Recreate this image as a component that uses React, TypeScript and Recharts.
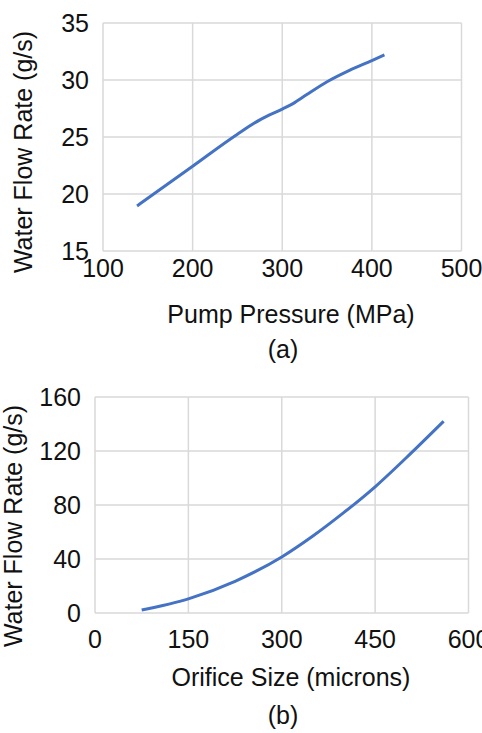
import { CartesianGrid, Label, Line, LineChart, XAxis, YAxis } from 'recharts'

// (a) pump pressure vs flow
const pressureMPa = [138, 200, 250, 276, 300, 312, 327, 350, 375, 400, 414]
const pressureFlow = [18.95, 22.44, 25.25, 26.55, 27.45, 27.93, 28.7, 29.85, 30.85, 31.7, 32.2]
const pressureTicks = [100, 200, 300, 400, 500]
const flowTicksA = [15, 20, 25, 30, 35]

// (b) orifice size vs flow
const orificeMicrons = [75, 150, 225, 300, 350, 400, 450, 500, 560]
const orificeFlow = [2.2, 10.5, 23.5, 41.5, 57, 74.5, 93.5, 115, 142]
const orificeTicks = [0, 150, 300, 450, 600]
const flowTicksB = [0, 40, 80, 120, 160]

const FONT = '"Liberation Sans", Arial, sans-serif'
const LINE = '#4472C4'
const GRID = '#d9d9d9'
const TEXT = '#111'

const tickStyle = { fill: TEXT, fontSize: 25, fontFamily: FONT }

const pressureData = pressureMPa.map((x, i) => ({ x, y: pressureFlow[i] }))
const orificeData = orificeMicrons.map((x, i) => ({ x, y: orificeFlow[i] }))

function Title(props: { x: number; y: number; text: string; rotate?: boolean }) {
  const { x, y, text, rotate } = props
  return (
    <text
      x={x}
      y={y}
      textAnchor="middle"
      dominantBaseline="central"
      fill={TEXT}
      fontSize={25}
      fontFamily={FONT}
      transform={rotate ? `rotate(-90 ${x} ${y})` : undefined}
    >
      {text}
    </text>
  )
}

export default function App() {
  return (
    <div style={{ position: 'absolute', left: 0, top: 0, width: 482, height: 733, background: '#fff' }}>
      <LineChart width={482} height={365} data={pressureData} margin={{ top: 23, right: 20.5, left: 0, bottom: 0 }}>
        <CartesianGrid stroke={GRID} strokeWidth={1.5} />
        <XAxis
          dataKey="x"
          type="number"
          domain={[100, 500]}
          ticks={pressureTicks}
          height={114}
          tickLine={false}
          axisLine={false}
          tick={tickStyle}
          interval={0}
        >
          <Label content={() => (
            <g>
              <Title x={291} y={314} text="Pump Pressure (MPa)" />
              <Title x={283} y={349} text="(a)" />
            </g>
          )} />
        </XAxis>
        <YAxis
          type="number"
          domain={[15, 35]}
          ticks={flowTicksA}
          width={103}
          tickLine={false}
          axisLine={false}
          tickMargin={8}
          tick={tickStyle}
          interval={0}
        >
          <Label content={() => <Title x={23} y={152} text="Water Flow Rate (g/s)" rotate />} />
        </YAxis>
        <Line dataKey="y" type="monotone" stroke={LINE} strokeWidth={3} dot={false} isAnimationActive={false} />
      </LineChart>
      <LineChart width={482} height={368} data={orificeData} margin={{ top: 32, right: 13.5, left: 0, bottom: 0 }}>
        <CartesianGrid stroke={GRID} strokeWidth={1.5} />
        <XAxis
          dataKey="x"
          type="number"
          domain={[0, 600]}
          ticks={orificeTicks}
          height={120}
          tickLine={false}
          axisLine={false}
          tickMargin={11}
          tick={tickStyle}
          interval={0}
        >
          <Label content={() => (
            <g>
              <Title x={291} y={312} text="Orifice Size (microns)" />
              <Title x={283} y={350} text="(b)" />
            </g>
          )} />
        </XAxis>
        <YAxis
          type="number"
          domain={[0, 160]}
          ticks={flowTicksB}
          width={95}
          tickLine={false}
          axisLine={false}
          tickMargin={8}
          tick={tickStyle}
          interval={0}
        >
          <Label content={() => <Title x={12.5} y={161} text="Water Flow Rate (g/s)" rotate />} />
        </YAxis>
        <Line dataKey="y" type="monotone" stroke={LINE} strokeWidth={3} dot={false} isAnimationActive={false} />
      </LineChart>
    </div>
  )
}
